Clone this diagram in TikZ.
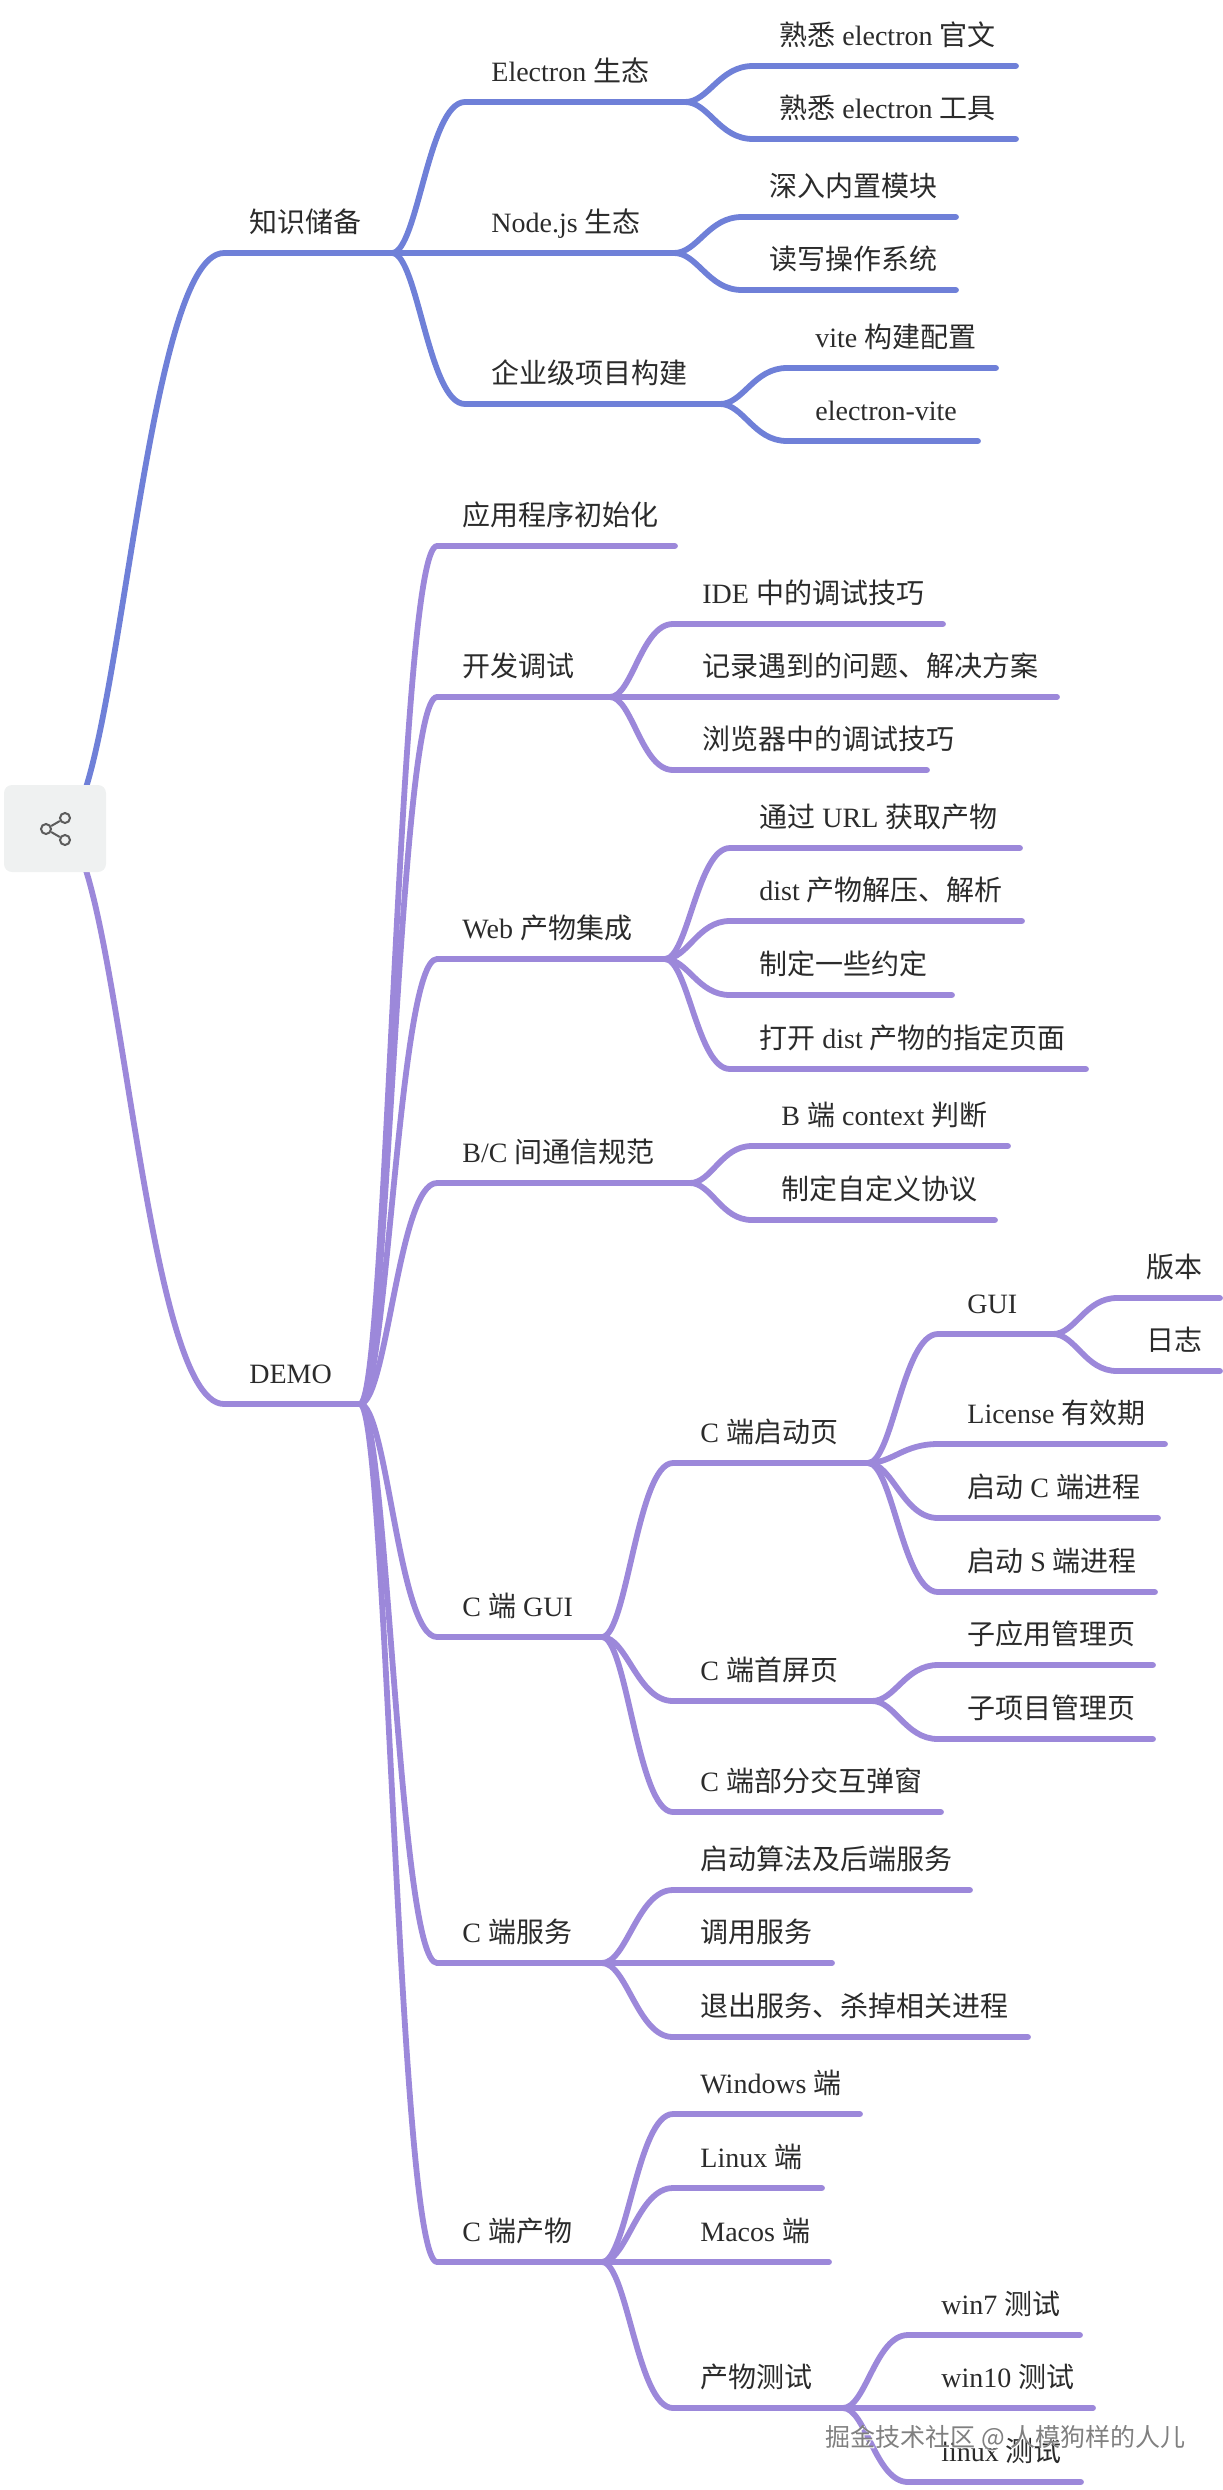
\documentclass[tikz,border=0pt]{standalone}
\usepackage{fontspec}
\setmainfont{Liberation Serif}
\newfontfamily\cjk{Noto Sans CJK SC}
\newcommand{\zh}[1]{{\cjk #1}}
\usetikzlibrary{calc}
\definecolor{blueline}{HTML}{6F80D8}
\definecolor{purpleline}{HTML}{9C88DA}
\definecolor{labelgray}{HTML}{2B2B2B}
\definecolor{sharegray}{HTML}{EFF1F1}
\definecolor{shareicon}{HTML}{5C5C5C}
\definecolor{markgray}{HTML}{808080}
\tikzset{
    topicline/.style={line width=2.9pt,line cap=round,line join=round},
    topiclabel/.style={anchor=base west,inner sep=0pt,text=labelgray,font=\fontsize{14}{16}\selectfont},
    sharebox/.style={fill=sharegray,rounded corners=4pt,minimum width=51pt,minimum height=43.5pt,inner sep=0pt},
    sharedot/.style={circle,draw=shareicon,line width=1pt,fill=sharegray,minimum size=5pt,inner sep=0pt},
    markfont/.style={anchor=west,inner sep=0pt,font=\fontsize{12.5}{14}\selectfont}
}
\begin{document}
\begin{tikzpicture}[x=0.5pt,y=-0.5pt]
\useasboundingbox (0,0) rectangle (1222,2490);
% parent, name, line start, line end, line y, text x, text
\def\topic#1#2#3#4#5#6#7{
    \coordinate (#2S) at (#3,#5);
    \coordinate (#2E) at (#4,#5);
    \draw[topicline,\LINECOLOR] (#1E) .. controls ($(#1E)!0.35!(#2S|-#1E)$) and ($(#1E|-#2S)!0.5!(#2S)$) .. (#2S) -- (#2E);
    \node[topiclabel] (#2) at (#6,#5-21) {#7};
}
\coordinate (rootE) at (60,829);

\def\LINECOLOR{blueline}
\topic{root}{prep}{224}{392}{253}{249}{\zh{知识储备}}
\topic{prep}{eco}{465}{685}{102}{491}{Electron \zh{生态}}
\topic{eco}{ecoSite}{753}{1016}{66}{779}{\zh{熟悉} electron \zh{官文}}
\topic{eco}{ecoTool}{753}{1016}{139}{779}{\zh{熟悉} electron \zh{工具}}
\topic{prep}{nodeEco}{465}{674}{253}{491}{Node.js \zh{生态}}
\topic{nodeEco}{nodeMod}{742}{956}{217}{769}{\zh{深入内置模块}}
\topic{nodeEco}{nodeOs}{742}{956}{290}{769}{\zh{读写操作系统}}
\topic{prep}{build}{465}{720}{404}{491}{\zh{企业级项目构建}}
\topic{build}{buildVite}{787}{996}{368}{815}{vite \zh{构建配置}}
\topic{build}{buildEv}{787}{978}{441}{815}{electron-vite}

\def\LINECOLOR{purpleline}
\topic{root}{demo}{224}{360}{1404}{249}{DEMO}
\topic{demo}{init}{437}{675}{546}{462}{\zh{应用程序初始化}}
\topic{demo}{debug}{437}{610}{697}{462}{\zh{开发调试}}
\topic{debug}{debugIde}{673}{943}{624}{702}{IDE \zh{中的调试技巧}}
\topic{debug}{debugLog}{673}{1057}{697}{702}{\zh{记录遇到的问题、解决方案}}
\topic{debug}{debugWeb}{673}{927}{770}{702}{\zh{浏览器中的调试技巧}}
\topic{demo}{web}{437}{665}{959}{462}{Web \zh{产物集成}}
\topic{web}{webUrl}{730}{1020}{848}{759}{\zh{通过} URL \zh{获取产物}}
\topic{web}{webDist}{730}{1022}{921}{759}{dist \zh{产物解压、解析}}
\topic{web}{webRule}{730}{952}{995}{759}{\zh{制定一些约定}}
\topic{web}{webOpen}{730}{1086}{1069}{759}{\zh{打开} dist \zh{产物的指定页面}}
\topic{demo}{bc}{437}{690}{1183}{462}{B/C \zh{间通信规范}}
\topic{bc}{bcCtx}{752}{1008}{1146}{781}{B \zh{端} context \zh{判断}}
\topic{bc}{bcProto}{752}{995}{1220}{781}{\zh{制定自定义协议}}
\topic{demo}{gui}{437}{602}{1637}{462}{C \zh{端} GUI}
\topic{gui}{start}{673}{868}{1463}{700}{C \zh{端启动页}}
\topic{start}{startGui}{938}{1053}{1334}{967}{GUI}
\topic{startGui}{guiVer}{1117}{1220}{1298}{1146}{\zh{版本}}
\topic{startGui}{guiLog}{1117}{1220}{1371}{1146}{\zh{日志}}
\topic{start}{startLic}{938}{1165}{1444}{967}{License \zh{有效期}}
\topic{start}{startC}{938}{1158}{1518}{967}{\zh{启动} C \zh{端进程}}
\topic{start}{startS}{938}{1155}{1592}{967}{\zh{启动} S \zh{端进程}}
\topic{gui}{home}{673}{872}{1701}{700}{C \zh{端首屏页}}
\topic{home}{homeApp}{938}{1153}{1665}{967}{\zh{子应用管理页}}
\topic{home}{homePrj}{938}{1153}{1739}{967}{\zh{子项目管理页}}
\topic{gui}{popup}{673}{941}{1812}{700}{C \zh{端部分交互弹窗}}
\topic{demo}{svc}{437}{602}{1963}{462}{C \zh{端服务}}
\topic{svc}{svcStart}{673}{970}{1890}{700}{\zh{启动算法及后端服务}}
\topic{svc}{svcCall}{673}{832}{1963}{700}{\zh{调用服务}}
\topic{svc}{svcQuit}{673}{1028}{2037}{700}{\zh{退出服务、杀掉相关进程}}
\topic{demo}{prod}{437}{602}{2262}{462}{C \zh{端产物}}
\topic{prod}{prodWin}{673}{860}{2114}{700}{Windows \zh{端}}
\topic{prod}{prodLinux}{673}{822}{2188}{700}{Linux \zh{端}}
\topic{prod}{prodMac}{673}{829}{2262}{700}{Macos \zh{端}}
\topic{prod}{test}{673}{843}{2408}{700}{\zh{产物测试}}
\topic{test}{testSeven}{908}{1080}{2335}{941}{win7 \zh{测试}}
\topic{test}{testTen}{908}{1093}{2408}{941}{win10 \zh{测试}}
\topic{test}{testLinux}{908}{1081}{2482}{941}{linux \zh{测试}}

\node[sharebox] (share) at (55,828.5) {};
\node[sharedot] (shareL) at (46,829) {};
\node[sharedot] (shareT) at (65,818) {};
\node[sharedot] (shareB) at (65,840) {};
\draw[shareicon,line width=1pt] (shareL) -- (shareT);
\draw[shareicon,line width=1pt] (shareL) -- (shareB);

\node[markfont,text=white] (markBack) at (826.5,2439.5) {\zh{掘金技术社区 @ 人模狗样的人儿}};
\node[markfont,text=markgray] (mark) at (825,2438) {\zh{掘金技术社区 @ 人模狗样的人儿}};
\end{tikzpicture}
\end{document}
